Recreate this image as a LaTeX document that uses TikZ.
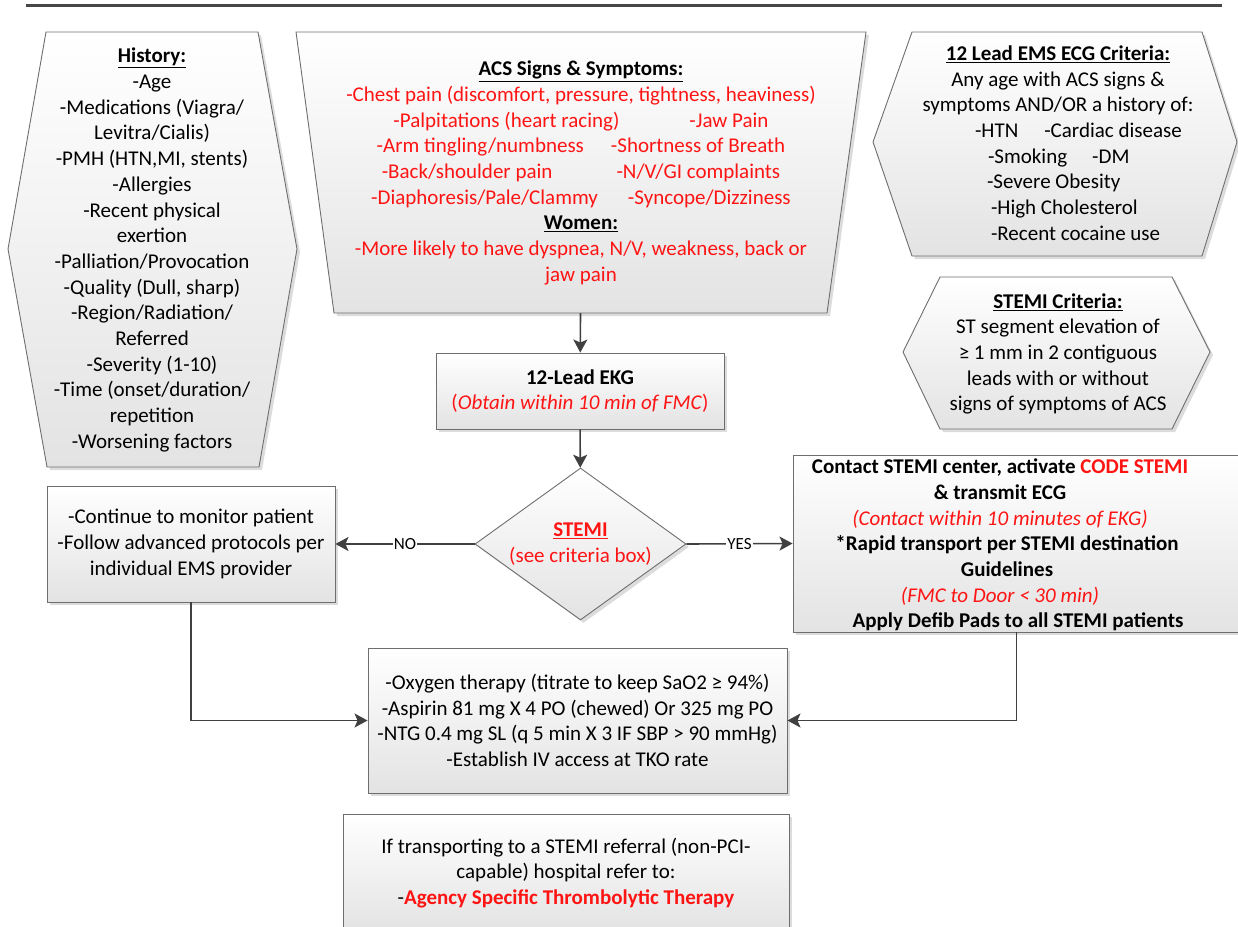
\documentclass[tikz,border=0pt]{standalone}
\usepackage{fontspec}
\setmainfont{Carlito}
\usetikzlibrary{shapes.geometric, shadows, arrows.meta}
\definecolor{rule-gray}{HTML}{474747}
\definecolor{edge-gray}{HTML}{6E6E6E}
\definecolor{flow-gray}{HTML}{404040}
\definecolor{alert-red}{HTML}{FF1414}
\newcommand{\hd}[1]{\underline{\textbf{#1}}}
\newcommand{\listline}[2]{\makebox[0pt][l]{\hspace*{#1}#2}}

\begin{document}
\begin{tikzpicture}[x=1pt, y=-1pt,
      every node/.style={font=\fontsize{21}{25.7}\selectfont, align=center},
      panel/.style={draw=edge-gray, line width=0.9pt, top color=white, bottom color=black!11,
        drop shadow={shadow xshift=3pt, shadow yshift=-3pt, fill=black!30, opacity=0.45}},
      flow/.style={draw=flow-gray, line width=1.6pt, -{Stealth[length=13pt, width=14pt, inset=3pt]}},
      answer/.style={font=\fontsize{17}{20}\selectfont, fill=white, inner sep=1pt}]
  \useasboundingbox (0,0) rectangle (1238,926);
  \draw[rule-gray, line width=3pt] (26,5) -- (1222,5);

  % side panels
  \draw[panel] (46,32) -- (258,32) -- (297,249) -- (259,467) -- (47,467) -- (8,249) -- cycle;
  \node (history) at (152,250) {\hd{History:}\\-Age\\-Medications (Viagra/\\Levitra/Cialis)\\
    -PMH (HTN,MI, stents)\\-Allergies\\-Recent physical\\exertion\\-Palliation/Provocation\\
    -Quality (Dull, sharp)\\-Region/Radiation/\\Referred\\-Severity (1-10)\\
    -Time (onset/duration/\\repetition\\-Worsening factors};

  \draw[panel] (296,32) -- (866,32) -- (827,313) -- (334,313) -- cycle;
  \coordinate (acsbase) at (580.5,313);
  \node[text=alert-red] (acs) at (581,173) {\textcolor{black}{\hd{ACS Signs \& Symptoms:}}\\
    -Chest pain (discomfort, pressure, tightness, heaviness)\\
    -Palpitations (heart racing)\hspace{70pt}-Jaw Pain\\
    -Arm tingling/numbness\hspace{27pt}-Shortness of Breath\\
    -Back/shoulder pain\hspace{64pt}-N/V/GI complaints\\
    -Diaphoresis/Pale/Clammy\hspace{30pt}-Syncope/Dizziness\\
    \textcolor{black}{\hd{Women:}}\\
    -More likely to have dyspnea, N/V, weakness, back or\\jaw pain};

  \draw[panel] (912,32) -- (1202,32) -- (1237,142) -- (1202,256) -- (912,256) -- (873,142) -- cycle;
  \node (leadcrit) at (1058,143) {\hd{12 Lead EMS ECG Criteria:}\\Any age with ACS signs \&\\
    symptoms AND/OR a history of:\\
    \listline{-83pt}{-HTN\hspace{26pt}-Cardiac disease}\\
    \listline{-70pt}{-Smoking\hspace{25pt}-DM}\\
    \listline{-71pt}{-Severe Obesity}\\
    \listline{-67pt}{-High Cholesterol}\\
    \listline{-67pt}{-Recent cocaine use}};

  \draw[panel] (940,277) -- (1172,277) -- (1210,352) -- (1172,429) -- (940,429) -- (903,352) -- cycle;
  \node (stemicrit) at (1058,354) {\hd{STEMI Criteria:}\\ST segment elevation of\\
    ≥ 1 mm in 2 contiguous\\leads with or without\\signs of symptoms of ACS};

  % flow
  \node[panel, minimum width=288pt, minimum height=76pt] (ekg) at (580,391)
    {\textbf{12-Lead EKG}\\\textcolor{alert-red}{(\textit{Obtain within 10 min of FMC})}};
  \node[panel, diamond, aspect=1.39, inner sep=0pt, minimum width=211pt, minimum height=152pt,
    text=alert-red] (stemi) at (580.5,544) {\hd{STEMI}\\(see criteria box)};
  \node[panel, minimum width=288pt, minimum height=116pt] (monitor) at (191,544)
    {-Continue to monitor patient\\-Follow advanced protocols per\\individual EMS provider};
  \node[panel, minimum width=447pt, minimum height=177pt] (cathbox) at (1016.5,543.5) {};
  \node (cathtxt) at (1000,545) {\textbf{Contact STEMI center, activate \textcolor{alert-red}{CODE STEMI}}\\
    \textbf{\& transmit ECG}\\
    \textcolor{alert-red}{\textit{(Contact within 10 minutes of EKG)}}\\
    \hspace*{14pt}\textbf{*Rapid transport per STEMI destination}\\
    \hspace*{14pt}\textbf{Guidelines}\\
    \textcolor{alert-red}{\textit{(FMC to Door < 30 min)}}\\
    \hspace*{36pt}\textbf{Apply Defib Pads to all STEMI patients}};
  \node[panel, minimum width=419pt, minimum height=145pt] (treat) at (577.5,720.5)
    {-Oxygen therapy (titrate to keep SaO2 ≥ 94\%)\\-Aspirin 81 mg X 4 PO (chewed) Or 325 mg PO\\
    -NTG 0.4 mg SL (q 5 min X 3 IF SBP > 90 mmHg)\\-Establish IV access at TKO rate};
  \node[panel, minimum width=446pt, minimum height=118pt] (refer) at (566,873)
    {If transporting to a STEMI referral (non-PCI-\\capable) hospital refer to:\\
    -\textcolor{alert-red}{\textbf{Agency Specific Thrombolytic Therapy}}};

  \draw[flow] (acsbase) -- (ekg);
  \draw[flow] (ekg) -- (stemi);
  \draw[flow] (stemi.west) -- node[answer] (nolbl) {NO} (monitor.east);
  \draw[flow] (stemi.east) -- node[answer] (yeslbl) {YES} (cathbox.west);
  \draw[flow] (monitor.south) |- (treat.west);
  \draw[flow] (cathbox.south) |- (treat.east);
\end{tikzpicture}
\end{document}
